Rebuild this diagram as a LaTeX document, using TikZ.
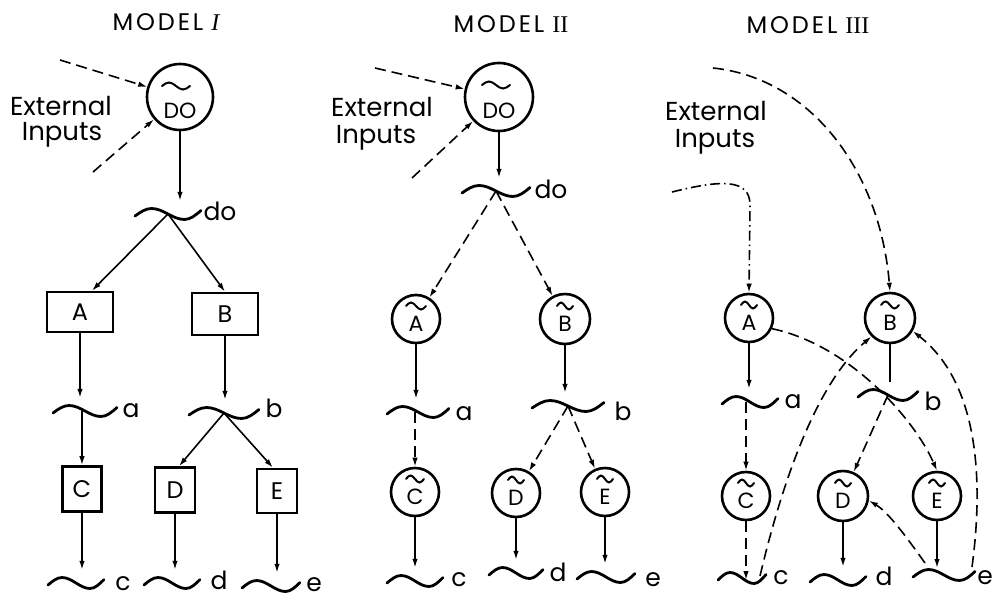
\documentclass[tikz,border=0pt]{standalone}
\usepackage{fontspec}
\setmainfont{Poppins}
\newfontfamily\numfont{Liberation Serif}
\usetikzlibrary{arrows.meta,calc}
\begin{document}
\begin{tikzpicture}[x=1pt,y=-1pt,
  tip/.style={-{Latex[length=9pt,width=5.5pt]}},
  conn/.style={line width=1.6pt,tip},
  dsh/.style={conn,dash pattern=on 11pt off 6pt},
  dashdot/.style={conn,dash pattern=on 10pt off 4pt on 1.5pt off 4pt},
  box/.style={draw,line width=2.6pt,inner sep=0pt,font=\fontsize{24}{26}\selectfont},
  bigc/.style={draw,circle,line width=2.6pt,minimum size=66pt,inner sep=0pt,text height=42pt,text depth=0pt,font=\fontsize{22}{24}\selectfont},
  smc/.style={draw,circle,line width=2.6pt,minimum size=48pt,inner sep=0pt,text height=25pt,text depth=0pt,font=\fontsize{22}{24}\selectfont},
  sig/.style={minimum width=56pt,minimum height=26pt,inner sep=0pt},
  lbl/.style={inner sep=0pt,font=\fontsize{25}{26}\selectfont},
  ext/.style={inner sep=0pt,font=\fontsize{26}{28}\selectfont},
  ttl/.style={inner sep=0pt,font=\fontsize{24}{26}\selectfont\addfontfeature{LetterSpace=12}},
  pics/wv/.style={code={\draw[line width=2.8pt,line cap=round] (-#1,2) sin (-#1/2,-5.5) cos (0,0) sin (#1/2,5.5) cos (#1,-3.5);}},
  pics/tl/.style={code={\draw[line width=2pt,line cap=round] (-#1,0) sin (-#1/2,-3.5) cos (0,0) sin (#1/2,3.5) cos (#1,0);}}
]
\useasboundingbox (0,0) rectangle (995,599);

% ================= MODEL I =================
\node[ttl] (t1) at (166,22) {MODEL\hspace{8pt}{\numfont\itshape I}};
\node[ext] (ext1) at (61,106) {External};
\node[ext] (inp1) at (62,135) {Inputs};
\node[bigc] (DO1) at (180,97) {DO};
\pic at ($(DO1.center)+(-4,-11)$) {tl=14};
\coordinate (in1a) at (60,60);
\coordinate (in1b) at (93,172);
\node[sig,minimum width=66pt] (do1) at (168,214) {};
\pic at (do1.center) {wv=33};
\node[lbl] (ldo1) at (220,211) {do};
\node[box,minimum width=66pt,minimum height=40pt] (A1) at (80,312) {A};
\node[box,minimum width=66pt,minimum height=42pt] (B1) at (225,314) {B};
\node[sig,minimum width=64pt] (a1) at (85,411) {};
\pic at (a1.center) {wv=32};
\node[lbl] (la1) at (131,411) {a};
\node[sig,minimum width=70pt] (b1) at (224,413) {};
\pic at (b1.center) {wv=35};
\node[lbl] (lb1) at (274,408) {b};
\node[box,minimum width=39pt,minimum height=45pt] (C1) at (82,489) {C};
\node[box,minimum width=40pt,minimum height=45pt] (D1) at (175,490) {D};
\node[box,minimum width=40pt,minimum height=44pt] (E1) at (277,491) {E};
\node[sig] (c1) at (76,583) {};
\pic at (c1.center) {wv=28};
\node[lbl] (lc1) at (123,584) {c};
\node[sig] (d1) at (172,583) {};
\pic at (d1.center) {wv=28};
\node[lbl] (ld1) at (219,580) {d};
\node[sig] (e1) at (271,586) {};
\pic at (e1.center) {wv=29};
\node[lbl] (le1) at (314,585) {e};

\draw[dsh] (in1a) -- (DO1);
\draw[dsh] (in1b) -- (DO1);
\draw[conn] (DO1) -- (DO1.south |- do1.north);
\draw[conn] (do1.center) -- ([xshift=12pt]A1.north);
\draw[conn] (do1.center) -- (B1.north);
\draw[conn] (A1) -- (A1.south |- a1.north);
\draw[conn] (C1.north |- a1.center) -- (C1);
\draw[conn] (B1) -- (B1.south |- b1.north);
\draw[conn] (b1.center) -- ([xshift=4pt]D1.north);
\draw[conn] (b1.center) -- ([xshift=-4pt]E1.north);
\draw[conn] (C1) -- (C1.south |- c1.north);
\draw[conn] (D1) -- (D1.south |- d1.north);
\draw[conn] (E1) -- (E1.south |- e1.north);

% ================= MODEL II =================
\node[ttl] (t2) at (511,24) {MODEL\hspace{8pt}{\numfont II}};
\node[ext] (ext2) at (382,107) {External};
\node[ext] (inp2) at (376,138) {Inputs};
\node[bigc,minimum size=68pt] (DO2) at (499,97) {DO};
\pic at ($(DO2.center)+(-3,-12)$) {tl=14};
\coordinate (in2a) at (375,68);
\coordinate (in2b) at (412,178);
\node[sig,minimum width=68pt] (do2) at (496,191) {};
\pic at (do2.center) {wv=34};
\node[lbl] (ldo2) at (551,189) {do};
\node[smc] (A2) at (416,319) {A};
\pic at ($(A2.center)+(0,-13)$) {tl=10};
\node[smc,minimum size=50pt] (B2) at (565,319) {B};
\pic at ($(B2.center)+(0,-13)$) {tl=8};
\node[sig,minimum width=63pt] (a2) at (418,412) {};
\pic at (a2.center) {wv=31};
\node[lbl] (la2) at (464,414) {a};
\node[sig,minimum width=72pt] (b2) at (568,406) {};
\pic at (b2.center) {wv=36};
\node[lbl] (lb2) at (623,411) {b};
\node[smc] (C2) at (415,492) {C};
\pic at ($(C2.center)+(0,-13)$) {tl=9};
\node[smc] (D2) at (516,493) {D};
\pic at ($(D2.center)+(0,-13)$) {tl=8};
\node[smc] (E2) at (605,492) {E};
\pic at ($(E2.center)+(0,-13)$) {tl=8};
\node[sig] (c2) at (415,581) {};
\pic at (c2.center) {wv=28};
\node[lbl] (lc2) at (459,580) {c};
\node[sig] (d2) at (516,573) {};
\pic at (d2.center) {wv=27};
\node[lbl] (ld2) at (558,572) {d};
\node[sig] (e2) at (606,577) {};
\pic at (e2.center) {wv=29};
\node[lbl] (le2) at (653,580) {e};

\draw[dsh] (in2a) -- (DO2);
\draw[dsh] (in2b) -- (DO2);
\draw[conn] (DO2) -- (DO2.south |- do2.north);
\draw[dsh] (do2.center) -- (A2);
\draw[dsh] (do2.center) -- (B2);
\draw[conn] (A2) -- (A2.south |- a2.north);
\draw[dsh] (C2.north |- a2.center) -- (C2);
\draw[conn] (B2) -- (B2.south |- b2.north);
\draw[dsh] (b2.center) -- (D2);
\draw[dsh] (b2.center) -- (E2);
\draw[conn] (C2) -- (C2.south |- c2.north);
\draw[conn] (D2) -- (D2.south |- d2.north);
\draw[conn] (E2) -- (E2.south |- e2.north);

% ================= MODEL III =================
\node[ttl] (t3) at (808,25) {MODEL\hspace{8pt}{\numfont III}};
\node[ext] (ext3) at (716,111) {External};
\node[ext] (inp3) at (715,142) {Inputs};
\coordinate (in3a) at (713,68);
\coordinate (in3b) at (672,192);
\node[smc] (A3) at (749,318) {A};
\pic at ($(A3.center)+(0,-13)$) {tl=8};
\node[smc,minimum size=50pt] (B3) at (890,318) {B};
\pic at ($(B3.center)+(0,-13)$) {tl=9};
\node[sig] (a3) at (750,402) {};
\pic at (a3.center) {wv=28};
\node[lbl] (la3) at (793,402) {a};
\node[sig,minimum width=60pt] (b3) at (888,395) {};
\pic at (b3.center) {wv=30};
\node[lbl] (lb3) at (933,401) {b};
\node[smc] (C3) at (746,496) {C};
\pic at ($(C3.center)+(0,-13)$) {tl=8};
\node[smc,minimum size=50pt] (D3) at (843,496) {D};
\pic at ($(D3.center)+(0,-13)$) {tl=8};
\node[smc] (E3) at (937,496) {E};
\pic at ($(E3.center)+(0,-13)$) {tl=8};
\node[sig,minimum width=48pt] (c3) at (742,578) {};
\pic at (c3.center) {wv=24};
\node[lbl] (lc3) at (781,578) {c};
\node[sig] (d3) at (838,580) {};
\pic at (d3.center) {wv=28};
\node[lbl] (ld3) at (884,576) {d};
\node[sig,minimum width=62pt] (e3) at (944,575) {};
\pic at (e3.center) {wv=31};
\node[lbl] (le3) at (985,578) {e};

\draw[dsh] (in3a) .. controls (810,78) and (880,170) .. (B3.north);
\draw[dashdot] (in3b) .. controls (720,180) and (750,178) .. (750,205) -- (A3.north);
\draw[conn] (A3) -- (A3.south |- a3.north);
\draw[dsh] (A3.-25) .. controls (850,345) and (915,420) .. (E3.north);
\draw[line width=1.6pt] (B3) -- (B3.south |- b3.north);
\draw[dsh] (b3.center) -- (D3);
\draw[dsh] (C3.north |- a3.center) -- (C3);
\draw[dsh] (C3) -- ($(C3.south |- c3.center)+(0,2)$);
\draw[dsh] ($(c3.center)+(18,-2)$) .. controls (785,470) and (820,380) .. (B3.225);
\draw[conn] (D3) -- (D3.south |- d3.north);
\draw[conn] (E3) -- ($(E3.south |- e3.center)+(0,-7)$);
\draw[dsh] ($(e3.center)+(-19,-12)$) .. controls (905,535) and (888,512) .. (D3.-10);
\draw[dsh] ($(e3.center)+(28,-8)$) .. controls (985,470) and (975,380) .. (B3.-30);
\end{tikzpicture}
\end{document}
